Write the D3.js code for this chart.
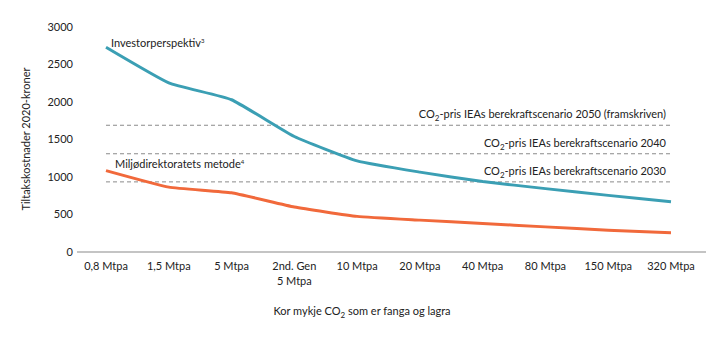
<!DOCTYPE html>
<html><head><meta charset="utf-8">
<script src="https://cdn.jsdelivr.net/npm/d3@7"></script>
<style>body{margin:0;background:#fff}svg{display:block;font-family:Lato,"Open Sans",sans-serif}</style>
</head><body><svg id="c" width="720" height="341"></svg>
<script>
const categories = ["0,8 Mtpa","1,5 Mtpa","5 Mtpa","2nd. Gen\n5 Mtpa","10 Mtpa","20 Mtpa","40 Mtpa","80 Mtpa","150 Mtpa","320 Mtpa"];
const investor = [2730,2255,2030,1540,1215,1065,940,845,755,670];
const miljo = [1085,865,790,600,475,425,380,335,290,258];
const refValues = [1690,1310,935];
const refLabels = ["berekraftscenario 2050 (framskriven)","berekraftscenario 2040","berekraftscenario 2030"];
const yTicks = [0,500,1000,1500,2000,2500,3000];

const svg = d3.select("#c");
const x = d3.scalePoint().domain(categories).range([106,671]);
const y = d3.scaleLinear().domain([0,3000]).range([252,27]);

svg.append("g").selectAll("text").data(yTicks).join("text")
  .attr("x",73).attr("y",d=>y(d)).attr("dy","0.35em").attr("text-anchor","end")
  .attr("font-size",11).attr("fill","#222").text(d=>d);

svg.append("line").attr("x1",77).attr("x2",706).attr("y1",y(0)).attr("y2",y(0))
  .attr("stroke","#c4c4c4").attr("stroke-width",2);

const xl = svg.append("g").selectAll("text").data(categories).join("text")
  .attr("x",d=>x(d)).attr("y",270).attr("text-anchor","middle").attr("font-size",11).attr("fill","#222");
xl.each(function(d){
  const parts = d.split("\n");
  d3.select(this).selectAll("tspan").data(parts).join("tspan")
    .attr("x",x(d)).attr("dy",(p,i)=>i?15:0).text(p=>p);
});

refValues.forEach((v,i)=>{
  svg.append("line").attr("x1",x(categories[0])).attr("x2",x(categories[categories.length-1]))
    .attr("y1",y(v)).attr("y2",y(v)).attr("stroke","#8a8a8a").attr("stroke-width",1).attr("stroke-dasharray","4,3");
  const t = svg.append("text").attr("x",666).attr("y",y(v)-7).attr("text-anchor","end").attr("font-size",11).attr("fill","#222");
  t.append("tspan").text("CO");
  t.append("tspan").attr("font-size",8).attr("dy",3).text("2");
  t.append("tspan").attr("dy",-3).text("-pris IEAs "+refLabels[i]);
});

const line = d3.line().x((d,i)=>x(categories[i])).y(d=>y(d)).curve(d3.curveCardinal.tension(0.6));
svg.append("path").attr("d",line(investor)).attr("fill","none").attr("stroke","#3b9fb4").attr("stroke-width",3);
svg.append("path").attr("d",line(miljo)).attr("fill","none").attr("stroke","#f1693b").attr("stroke-width",3);

const l1 = svg.append("text").attr("x",111).attr("y",47).attr("font-size",11).attr("fill","#222");
l1.append("tspan").text("Investorperspektiv");
l1.append("tspan").attr("font-size",6).attr("dy",-4).text("3");
const l2 = svg.append("text").attr("x",115).attr("y",168).attr("font-size",11).attr("fill","#222");
l2.append("tspan").text("Miljødirektoratets metode");
l2.append("tspan").attr("font-size",6).attr("dy",-4).text("4");

svg.append("text").attr("transform","translate(30,139) rotate(-90)").attr("text-anchor","middle")
  .attr("font-size",11).attr("fill","#222").text("Tiltakskostnader 2020-kroner");
const xt = svg.append("text").attr("x",362).attr("y",315).attr("text-anchor","middle").attr("font-size",11).attr("fill","#222");
xt.append("tspan").text("Kor mykje CO");
xt.append("tspan").attr("font-size",8).attr("dy",3).text("2");
xt.append("tspan").attr("dy",-3).text(" som er fanga og lagra");
</script></body></html>
